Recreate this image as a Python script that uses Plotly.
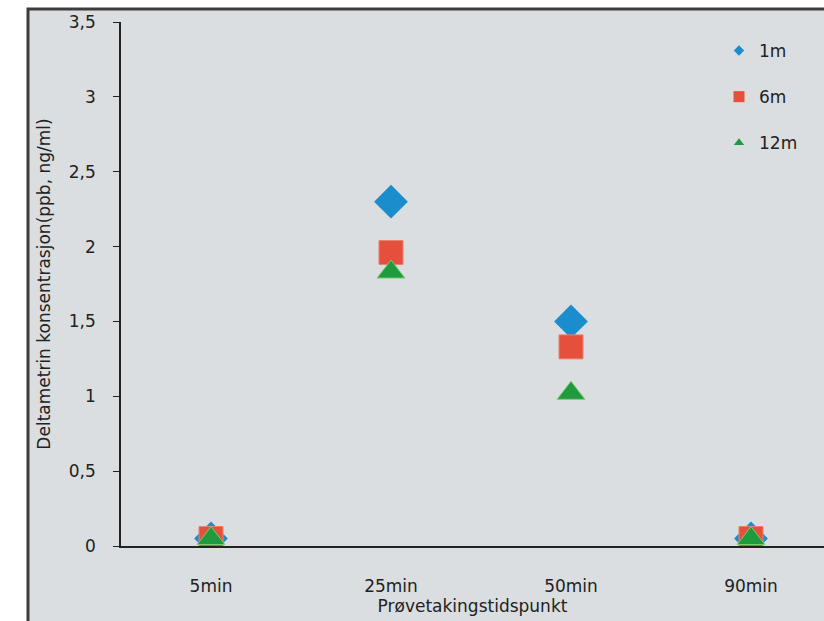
import plotly.graph_objects as go

categories = ["5min", "25min", "50min", "90min"]
series_names = ["1m", "6m", "12m"]
vals_1m = [0.05, 2.30, 1.50, 0.05]
vals_6m = [0.05, 1.96, 1.33, 0.05]
vals_12m = [0.05, 1.83, 1.02, 0.05]
y_ticks = [0, 0.5, 1, 1.5, 2, 2.5, 3, 3.5]
y_ticklabels = ["0", "0,5", "1", "1,5", "2", "2,5", "3", "3,5"]

BG = "#dadee0"
styles = [
    dict(symbol="diamond", color="#1b8ccc", size=26, lsize=8, line=dict(color="#1b8ccc", width=0)),
    dict(symbol="square", color="#e4503c", size=24, lsize=11, line=dict(color="#e98070", width=1)),
    dict(symbol="triangle-up", color="#1f9a3e", size=24, lsize=9, line=dict(color="#7cc870", width=1)),
]
all_vals = [vals_1m, vals_6m, vals_12m]

fig = go.Figure()
for name, vals, st in zip(series_names, all_vals, styles):
    fig.add_trace(go.Scatter(
        x=categories, y=vals, mode="markers", name=name, showlegend=False,
        marker=dict(symbol=st["symbol"], color=st["color"], size=st["size"], line=st["line"]),
        hoverinfo="x+y",
    ))
for name, st in zip(series_names, styles):
    fig.add_trace(go.Scatter(
        x=[None], y=[None], mode="markers", name=name, legendgroup=name,
        marker=dict(symbol=st["symbol"], color=st["color"], size=st["lsize"], line=dict(width=0)),
    ))

W, H = 824, 621
L, T, B = 121, 22, 75
pw = W - L
ph = H - T - B
# frame rectangle (paper coords)
x0 = (28 - L) / pw
y1 = (H - B - 9) / ph
fig.add_shape(type="rect", xref="paper", yref="paper",
              x0=x0, x1=1.2, y0=-0.3, y1=y1,
              line=dict(color="#3c3c3c", width=3), fillcolor=BG, layer="below")

font_family = "DejaVu Sans, Arial, sans-serif"
fig.update_layout(
    width=W, height=H,
    margin=dict(l=L, r=0, t=T, b=B, pad=0),
    paper_bgcolor="white", plot_bgcolor=BG,
    font=dict(family=font_family, size=17, color="#222222"),
    showlegend=True,
    legend=dict(x=(719 - L) / pw, y=(H - B - 33) / ph, xanchor="left", yanchor="top",
                bgcolor="rgba(0,0,0,0)", font=dict(size=17, color="#222"),
                tracegroupgap=21, itemsizing="trace", itemwidth=30),
    xaxis=dict(
        type="category", range=[-0.5, 3.5 - (841 - W) / 180.0],
        showline=True, linecolor="#222", linewidth=2,
        showgrid=False, zeroline=False, ticks="",
        ticklabelstandoff=24,
        title=dict(text="Prøvetakingstidspunkt", font=dict(size=17), standoff=3),
        tickfont=dict(size=17),
    ),
    yaxis=dict(
        range=[0, 3.5], tickvals=y_ticks, ticktext=y_ticklabels,
        showline=True, linecolor="#222", linewidth=1.5,
        showgrid=False, zeroline=False,
        ticks="outside", ticklen=6, tickcolor="#222", tickwidth=1,
        ticklabelstandoff=14, tickfont=dict(size=17),
        title=dict(text="Deltametrin konsentrasjon(ppb, ng/ml)", font=dict(size=17), standoff=14),
    ),
)
fig.write_html("out.html", config={"displayModeBar": False},
               post_script="document.body.style.margin='0px';")
